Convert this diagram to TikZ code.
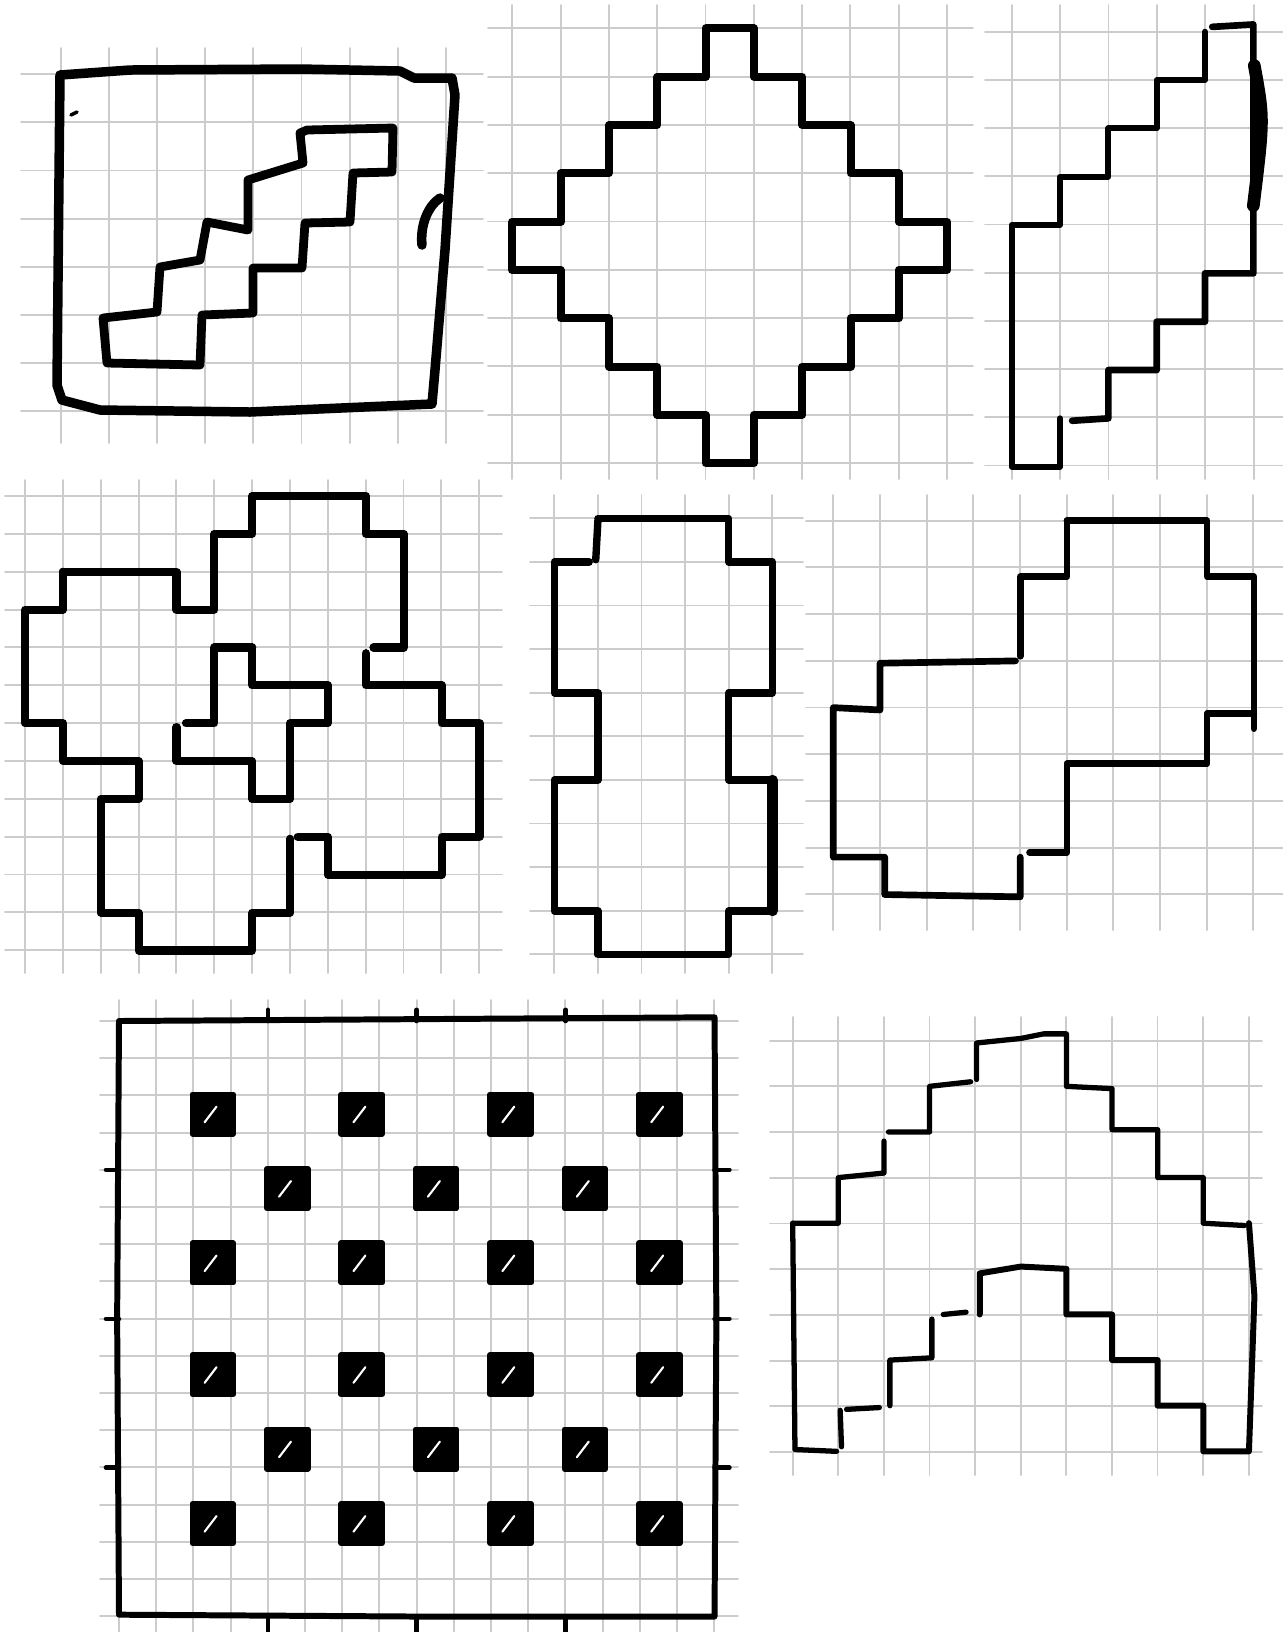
\documentclass[tikz,border=0pt]{standalone}
\begin{document}
\begin{tikzpicture}[x=.01cm,y=-.01cm,line cap=round,line join=round]
  \tikzset{gridline/.style={line width=.55pt,black!20},
    sketch/.style={line width=2pt,black},
    tickmark/.style={line width=1.3pt,black}}
  \useasboundingbox (0,0) rectangle (1283,1632);
  \fill[white] (0,0) rectangle (1283,1632);
  % squared paper, one sheet per sketch
  \foreach \i in {0,...,8} \draw[gridline] ({61+48.1*\i},48)--({61+48.1*\i},443);
  \foreach \j in {0,...,7} \draw[gridline] (21,{74.3+48.1*\j})--(483,{74.3+48.1*\j});
  \foreach \i in {0,...,9} \draw[gridline] ({512.3+48.3*\i},5)--({512.3+48.3*\i},479);
  \foreach \j in {0,...,9} \draw[gridline] (488,{28.3+48.3*\j})--(973,{28.3+48.3*\j});
  \foreach \i in {0,...,5} \draw[gridline] ({1011.7+48.4*\i},5)--({1011.7+48.4*\i},479);
  \foreach \j in {0,...,9} \draw[gridline] (985,{31.7+48.2*\j})--(1283,{31.7+48.2*\j});
  \foreach \i in {0,...,12} \draw[gridline] ({25+37.85*\i},480)--({25+37.85*\i},973);
  \foreach \j in {0,...,12} \draw[gridline] (5,{496+37.85*\j})--(502,{496+37.85*\j});
  \foreach \i in {0,...,5} \draw[gridline] ({554.3+43.6*\i},495)--({554.3+43.6*\i},973);
  \foreach \j in {0,...,10} \draw[gridline] (530,{518.3+43.6*\j})--(803,{518.3+43.6*\j});
  \foreach \i in {0,...,9} \draw[gridline] ({833.3+46.67*\i},495)--({833.3+46.67*\i},930);
  \foreach \j in {0,...,8} \draw[gridline] (806,{520.7+46.7*\j})--(1283,{520.7+46.7*\j});
  \foreach \i in {0,...,16} \draw[gridline] ({119+37.2*\i},1000)--({119+37.2*\i},1632);
  \foreach \j in {0,...,16} \draw[gridline] (100,{1021+37.2*\j})--(738,{1021+37.2*\j});
  \foreach \i in {0,...,10} \draw[gridline] ({792.7+45.6*\i},1017)--({792.7+45.6*\i},1475);
  \foreach \j in {0,...,9} \draw[gridline] (770,{1040.7+45.7*\j})--(1262,{1040.7+45.7*\j});
  % framed staircase
  \draw[sketch,line width=2.7pt] (60,75)--(130,70)--(300,69)--(400,71)--(414,78)--(452,78)--(455,95)--(445,250)--(435,370)--(432,404)--(250,412)--(100,410)--(62,400)--(57,385)--(60,75);
  \draw[sketch,line width=2.7pt] (422,245) .. controls (420,225) and (428,206) .. (440,198);
  \draw[sketch,line width=1pt] (71,115)--(77,112);
  \draw[sketch,line width=2.5pt] (103,318)--(107,363)--(200,365)--(202,315)--(253,313)--(253,268)--(302,268)--(305,223)--(350,222)--(353,173)--(392,172)--(393,128)--(307,130)--(300,133)--(303,163)--(248,180)--(248,230)--(207,222)--(200,260)--(160,267)--(157,312)--cycle;
  % stepped diamond
  \begin{scope}[shift={(512.3,28.3)},x=.483cm,y=-.483cm]
    \draw[sketch,line width=2.3pt] (4,0)--(5,0)--(5,1)--(6,1)--(6,2)--(7,2)--(7,3)--(8,3)--(8,4)--(9,4)--(9,5)--(8,5)--(8,6)--(7,6)--(7,7)--(6,7)--(6,8)--(5,8)--(5,9)--(4,9)--(4,8)--(3,8)--(3,7)--(2,7)--(2,6)--(1,6)--(1,5)--(0,5)--(0,4)--(1,4)--(1,3)--(2,3)--(2,2)--(3,2)--(3,1)--(4,1)--cycle;
  \end{scope}
  % stepped wedge
  \begin{scope}[shift={(1011.7,31.7)},x=.483cm,y=-.483cm]
    \draw[sketch,line width=1.9pt] (4.15,-.1)--(5,-.15)--(5,5)--(4,5)--(4,6)--(3,6)--(3,7)--(2,7)--(2,8)--(1.25,8.05);
    \draw[sketch,line width=1.7pt] (1,8)--(1,9)--(0,9)--(0,4)--(1,4)--(1,3)--(2,3)--(2,2)--(3,2)--(3,1)--(4,1)--(4,0);
    \draw[sketch,line width=3.6pt] (5.02,.7) .. controls (5.22,1.8) .. (5,3.6);
  \end{scope}
  % overlapping crosses
  \begin{scope}[shift={(25,496)},x=.3785cm,y=-.3785cm]
    \draw[sketch,line width=2.3pt] (1,2)--(4,2)--(4,3)--(5,3)--(5,1)--(6,1)--(6,0)--(9,0)--(9,1)--(10,1)--(10,4)--(9.2,4);
    \draw[sketch,line width=2.3pt] (9,4.15)--(9,5)--(11,5)--(11,6)--(12,6)--(12,9)--(11,9)--(11,10)--(8,10)--(8,9)--(7.2,9);
    \draw[sketch,line width=2.3pt] (7,9.05)--(7,11)--(6,11)--(6,12)--(3,12)--(3,11)--(2,11)--(2,8)--(3,8)--(3,7)--(1,7)--(1,6)--(0,6)--(0,3)--(1,3)--(1,2);
    \draw[sketch,line width=2.3pt] (6,4)--(5,4)--(5,6)--(4.25,6);
    \draw[sketch,line width=2.3pt] (4,6.1)--(4,7)--(6,7)--(6,8)--(7,8)--(7,6)--(8,6)--(8,5)--(6,5)--(6,4);
  \end{scope}
  % double cross, upright
  \begin{scope}[shift={(554.3,518.3)},x=.436cm,y=-.436cm]
    \draw[sketch,line width=2.1pt] (1,0)--(4,0)--(4,1)--(5,1)--(5,4)--(4,4)--(4,6)--(5,6)--(5,9)--(4,9)--(4,10)--(1,10)--(1,9)--(0,9)--(0,6)--(1,6)--(1,4)--(0,4)--(0,1)--(.8,1);
    \draw[sketch,line width=2.1pt] (.95,.95)--(1,.05);
    \draw[sketch,line width=3pt] (5,6)--(5,9);
  \end{scope}
  % double cross, offset
  \begin{scope}[shift={(833.3,520.7)},x=.467cm,y=-.467cm]
    \draw[sketch,line width=1.9pt] (5,0)--(8,0)--(8,1.2)--(9,1.2)--(9,4.45);
    \draw[sketch,line width=1.9pt] (9,4.12)--(8,4.12)--(8,5.2)--(5,5.2)--(5,7.1)--(4.2,7.1);
    \draw[sketch,line width=1.9pt] (4,7.2)--(4,8.05)--(1.1,8)--(1.1,7.2)--(0,7.2)--(0,4)--(1,4.05)--(1,3.05)--(3.9,3);
    \draw[sketch,line width=1.9pt] (4,2.9)--(4,1.2)--(5,1.2)--(5,0);
  \end{scope}
  % dotted board
  \begin{scope}[shift={(119,1021)},x=.372cm,y=-.372cm]
    \draw[sketch,line width=1.7pt] (0,0)--(8,-.05)--(16,-.1)--(16.05,8)--(16,16)--(8,16)--(0,15.95)--(-.05,8)--cycle;
    \foreach \k in {4,8,12} {
      \draw[tickmark] (\k,0)--(\k,-.3);
      \draw[tickmark] (\k,16)--(\k,16.45);
      \draw[tickmark] (0,\k)--(-.35,\k);
      \draw[tickmark] (16,\k)--(16.4,\k);
    }
    \foreach \r in {2,6,9,13} \foreach \c in {2,6,10,14} {
      \draw[sketch,line width=1.6pt,fill=black] (\c-.03,\r-.03) rectangle ++(1.1,1.06);
      \draw[white,line width=.6pt] (\c+.3,\r+.72)--(\c+.62,\r+.3);
    }
    \foreach \r in {4,11} \foreach \c in {4,8,12} {
      \draw[sketch,line width=1.6pt,fill=black] (\c-.03,\r-.03) rectangle ++(1.1,1.06);
      \draw[white,line width=.6pt] (\c+.3,\r+.72)--(\c+.62,\r+.3);
    }
  \end{scope}
  % stepped arch
  \begin{scope}[shift={(792.7,1040.7)},x=.456cm,y=-.456cm]
    \draw[sketch,line width=1.5pt] (0,4)--(1,4)--(1,3)--(2,2.9)--(2,2.2);
    \draw[sketch,line width=1.5pt] (2.1,2)--(3,2)--(3,1)--(3.9,.9);
    \draw[sketch,line width=1.5pt] (4.03,.85)--(4.03,.05)--(5,-.05)--(5.5,-.15)--(6,-.15)--(6,1)--(7,1.05)--(7,1.95)--(8,1.95)--(8,3)--(9,3)--(9,4)--(9.9,4.05);
    \draw[sketch,line width=1.7pt] (10,4)--(10.12,5.6)--(10,9)--(9,9)--(9,8)--(8,8)--(8,7)--(7,7)--(7,6)--(6,6)--(6,5)--(5,4.95)--(4.1,5.1)--(4.1,6);
    \draw[sketch,line width=1.5pt] (3.8,5.95)--(3.3,6);
    \draw[sketch,line width=1.5pt] (3.05,6.1)--(3.05,6.95)--(2.13,7)--(2.13,8);
    \draw[sketch,line width=1.5pt] (1.9,8.04)--(1.18,8.08);
    \draw[sketch,line width=1.5pt] (1.04,8.1)--(1.07,8.9);
    \draw[sketch,line width=1.5pt] (.96,9)--(.05,8.96)--(0,4);
  \end{scope}
\end{tikzpicture}
\end{document}
